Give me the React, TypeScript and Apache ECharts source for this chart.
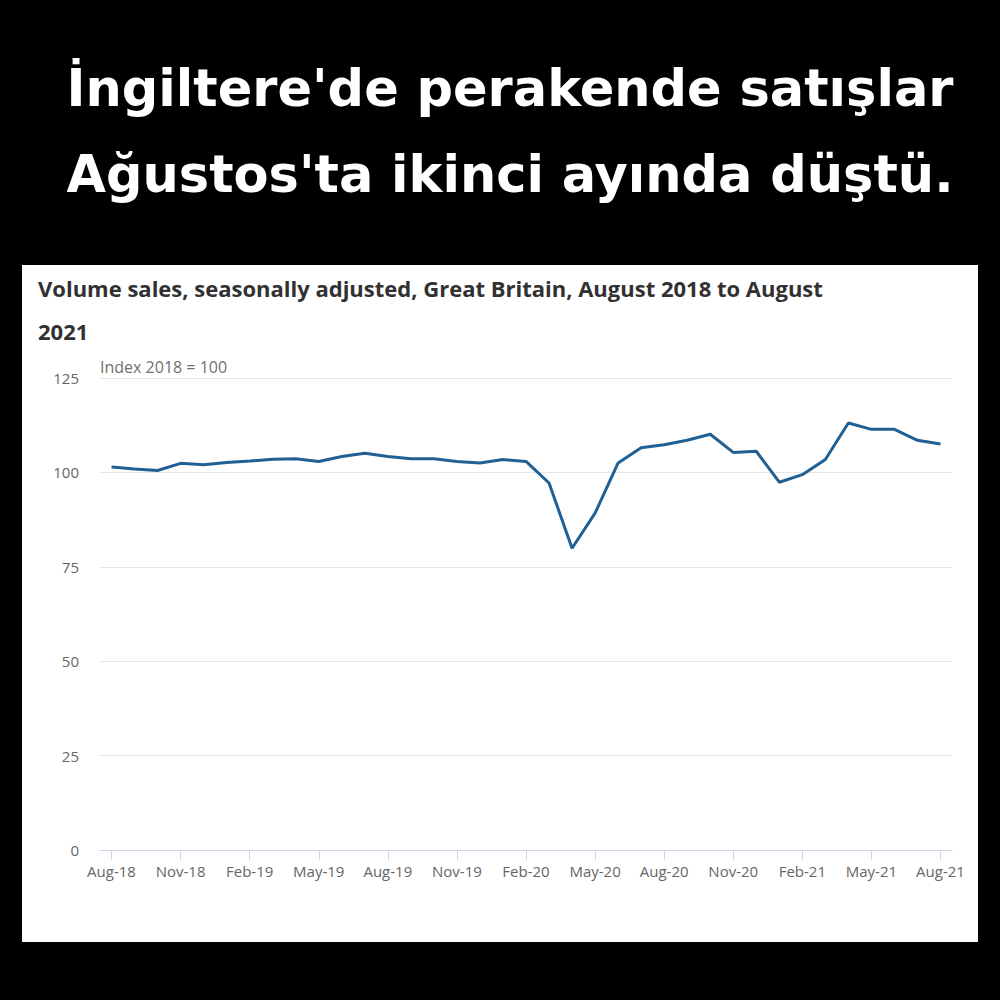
import React, { useEffect, useRef } from "react";
import * as echarts from "echarts";

const months = [
  "Aug-18", "Sep-18", "Oct-18", "Nov-18", "Dec-18", "Jan-19", "Feb-19", "Mar-19", "Apr-19",
  "May-19", "Jun-19", "Jul-19", "Aug-19", "Sep-19", "Oct-19", "Nov-19", "Dec-19", "Jan-20",
  "Feb-20", "Mar-20", "Apr-20", "May-20", "Jun-20", "Jul-20", "Aug-20", "Sep-20", "Oct-20",
  "Nov-20", "Dec-20", "Jan-21", "Feb-21", "Mar-21", "Apr-21", "May-21", "Jun-21", "Jul-21",
  "Aug-21",
];

const volumeIndex = [
  101.4, 100.9, 100.5, 102.4, 102.0, 102.6, 103.0, 103.5, 103.6, 102.9,
  104.2, 105.1, 104.2, 103.6, 103.6, 102.9, 102.5, 103.4, 102.9, 97.2,
  79.9, 89.2, 102.5, 106.5, 107.3, 108.5, 110.1, 105.3, 105.6, 97.4,
  99.4, 103.4, 113.1, 111.4, 111.4, 108.5, 107.5,
];

const yTicks = { min: 0, max: 125, interval: 25 };

const headline = ["İngiltere'de perakende satışlar", "Ağustos'ta ikinci ayında düştü."];
const chartTitle = ["Volume sales, seasonally adjusted, Great Britain, August 2018 to August", "2021"];
const unitLabel = "Index 2018 = 100";

export default function App() {
  const ref = useRef<HTMLDivElement>(null);
  useEffect(() => {
    if (!ref.current) return;
    const chart = echarts.init(ref.current, null, { renderer: "svg" });
    const font = "'Open Sans', 'Noto Sans', sans-serif";
    const headFont = "bold 51px 'DejaVu Sans', 'Noto Sans', sans-serif";
    chart.setOption({
      animation: false,
      backgroundColor: "#000000",
      graphic: [
        {
          type: "rect",
          shape: { x: 22, y: 265, width: 956, height: 677 },
          style: { fill: "#ffffff" },
          z: -10,
          silent: true,
        },
        {
          type: "text",
          x: 510,
          y: 88,
          style: {
            text: headline[0],
            fill: "#ffffff",
            font: headFont,
            textAlign: "center",
            textVerticalAlign: "middle",
          },
        },
        {
          type: "text",
          x: 510,
          y: 174,
          style: {
            text: headline[1],
            fill: "#ffffff",
            font: headFont,
            textAlign: "center",
            textVerticalAlign: "middle",
          },
        },
        {
          type: "text",
          x: 38,
          y: 288,
          style: {
            text: chartTitle[0],
            fill: "#323132",
            font: `bold 22px ${font}`,
            textAlign: "left",
            textVerticalAlign: "middle",
          },
        },
        {
          type: "text",
          x: 38,
          y: 331,
          style: {
            text: chartTitle[1],
            fill: "#323132",
            font: `bold 22px ${font}`,
            textAlign: "left",
            textVerticalAlign: "middle",
          },
        },
        {
          type: "text",
          x: 100,
          y: 367,
          z: 5,
          style: {
            text: unitLabel,
            fill: "#707070",
            font: `16px ${font}`,
            textAlign: "left",
            textVerticalAlign: "middle",
          },
        },
        {
          type: "rect",
          z: 6,
          shape: { x: 95, y: 350, width: 160, height: 11 },
          style: { fill: "#ffffff" },
          silent: true,
        },
      ],
      grid: { left: 100, right: 48, top: 378, bottom: 150, containLabel: false },
      xAxis: {
        type: "category",
        data: months,
        boundaryGap: true,
        axisLine: { show: true, lineStyle: { color: "#ccd6eb", width: 1 } },
        axisTick: {
          show: true,
          alignWithLabel: true,
          interval: 2,
          length: 10,
          lineStyle: { color: "#ccd6eb" },
        },
        axisLabel: {
          interval: 2,
          color: "#666666",
          fontSize: 15,
          fontFamily: font,
          margin: 13,
        },
        splitLine: { show: false },
      },
      yAxis: {
        type: "value",
        min: yTicks.min,
        max: yTicks.max,
        interval: yTicks.interval,
        axisLine: { show: false },
        axisTick: { show: false },
        axisLabel: {
          color: "#666666",
          fontSize: 15,
          fontFamily: font,
          margin: 21,
        },
        splitLine: { show: true, lineStyle: { color: "#e6e6e6", width: 1 } },
      },
      series: [
        {
          type: "line",
          data: volumeIndex,
          showSymbol: false,
          symbol: "none",
          lineStyle: { color: "#206095", width: 3 },
          itemStyle: { color: "#206095" },
          z: 3,
        },
      ],
    });
    return () => chart.dispose();
  }, []);
  return (
    <div
      ref={ref}
      style={{ position: "fixed", left: 0, top: 0, width: 1000, height: 1000 }}
    />
  );
}
